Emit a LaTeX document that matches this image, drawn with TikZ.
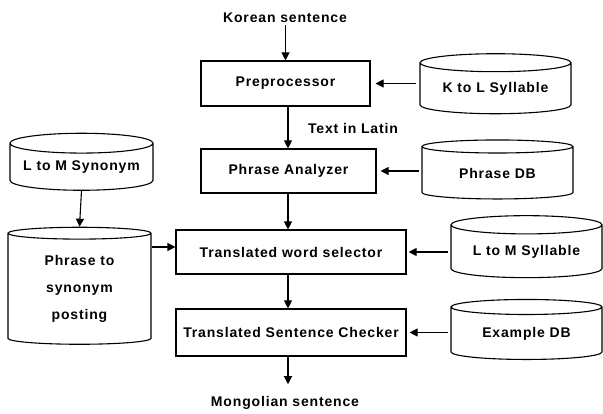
\documentclass[tikz,border=0pt]{standalone}
\usepackage{fontspec}
\setmainfont{Liberation Sans}[LetterSpace=6]
\usetikzlibrary{arrows.meta,shapes.geometric}
\begin{document}
\begin{tikzpicture}[x=1pt,y=-1pt,
  every node/.style={font=\fontsize{14}{27}\selectfont\bfseries},
  proc/.style={draw,line width=1.1pt,rectangle,inner sep=0pt},
  db/.style={draw,line width=1.1pt,cylinder,shape border rotate=90,aspect=0.17,inner sep=0pt},
  lbl/.style={inner sep=2pt},
  arr/.style={line width=1.1pt,-{Triangle[length=8pt,width=8pt]}}]
\useasboundingbox (0,0) rectangle (603,414);
% processes
\node[proc,minimum width=169pt,minimum height=45pt] (pre) at (285.5,83.5) {Preprocessor};
\node[proc,minimum width=175pt,minimum height=44pt] (pha) at (288.5,171) {Phrase Analyzer};
\node[proc,minimum width=230pt,minimum height=44pt] (sel) at (291,252) {Translated word selector};
\node[proc,minimum width=230pt,minimum height=47pt] (chk) at (291,332.5) {Translated Sentence Checker};
% databases
\node[db,minimum width=151pt,minimum height=60pt] (kl) at (495.5,88.5) {K to L Syllable};
\node[db,minimum width=151pt,minimum height=59pt] (pdb) at (497.5,173) {Phrase DB};
\node[db,minimum width=143pt,minimum height=57pt] (lms) at (81.5,167) {L to M Synonym};
\node[db,minimum width=143pt,minimum height=117pt,align=center] (pts) at (79.5,289) {Phrase to\\synonym\\posting};
\node[db,minimum width=151pt,minimum height=62pt] (lml) at (526.5,251.5) {L to M Syllable};
\node[db,minimum width=151pt,minimum height=60pt] (exd) at (526.5,333.5) {Example DB};
% labels
\node[lbl] (kor) at (285,18) {Korean sentence};
\node[lbl] (lat) at (353,128) {Text in Latin};
\node[lbl] (mon) at (285,403) {Mongolian sentence};
% connectors
\draw[arr] (kor.south -| pre.north) -- (pre.north);
\draw[arr] (pre.south -| 288,0) -- (pha.north -| 288,0);
\draw[arr] (pha.south -| 288,0) -- (sel.north -| 288,0);
\draw[arr] (sel.south -| 288,0) -- (chk.north -| 288,0);
\draw[arr,shorten >=10pt] (chk.south -| 288,0) -- (mon.north -| 288,0);
\draw[arr,shorten <=3pt,shorten >=5pt] (kl.west |- pre.east) -- (pre.east);
\draw[arr,shorten <=2pt,shorten >=4pt] (pdb.west |- pha.east) -- (pha.east);
\draw[arr,shorten <=2pt,shorten >=2pt] (lml.west |- sel.east) -- (sel.east);
\draw[arr,shorten <=2pt,shorten >=3pt] (exd.west |- chk.east) -- (chk.east);
\draw[arr] (lms.south) -- (pts.north);
\draw[arr] ([yshift=5pt]pts.east |- sel.west) -- ([yshift=5pt]sel.west);
\end{tikzpicture}
\end{document}
